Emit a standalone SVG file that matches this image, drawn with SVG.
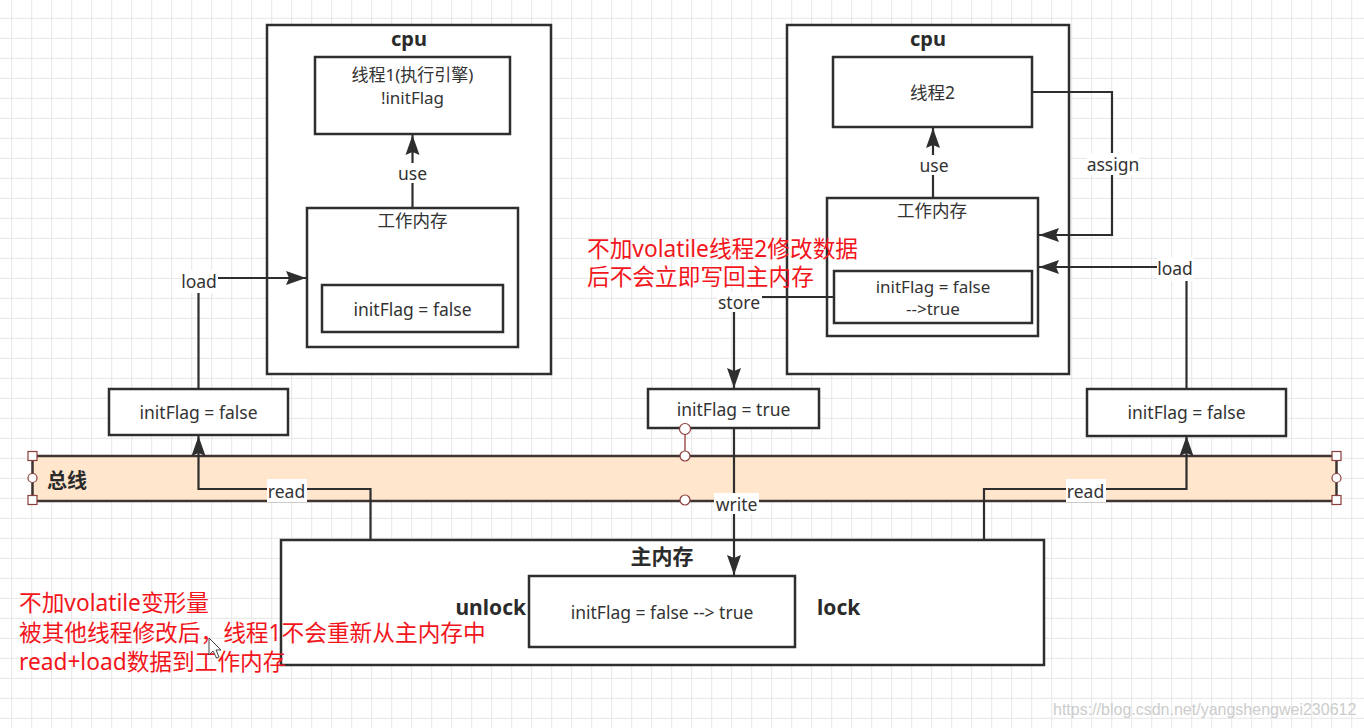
<svg xmlns="http://www.w3.org/2000/svg" width="1364" height="728" viewBox="0 0 1364 728">
<style>
.t{font-family:"Noto Sans","Noto Sans CJK SC",sans-serif;font-size:17.5px;fill:#333;text-anchor:middle;dominant-baseline:central}
.s{font-size:17px}
.b{font-weight:bold;font-size:20px;fill:#2b2b2b}
.b21{font-weight:bold;font-size:21px;fill:#2b2b2b}
.box{fill:#fff;stroke:#2e2e2e;stroke-width:2.5}
.ln{fill:none;stroke:#2e2e2e;stroke-width:2.2}
.lbl{fill:#fff}
.red{font-family:"Noto Sans","Noto Sans CJK SC",sans-serif;font-size:22.7px;fill:#f2161c;dominant-baseline:central}
.h{fill:#fff;stroke:#8b3d3d;stroke-width:1.2}
</style>
<defs>
<pattern id="grid" x="11.2" y="17.8" width="20" height="20" patternUnits="userSpaceOnUse"><path d="M0 0.5H20M0.5 0V20" stroke="#e6e6e6" stroke-width="1" fill="none"/></pattern>
<marker id="arr" markerUnits="userSpaceOnUse" markerWidth="21" markerHeight="15" refX="20" refY="7.5" orient="auto"><path d="M0,0.5 L20,7.5 L0,14.5 L3,7.5 Z" fill="#2e2e2e"/></marker>
</defs>
<rect width="1364" height="728" fill="#fff"/>
<rect width="1364" height="728" fill="url(#grid)"/>

<g id="bus">
<rect x="32.5" y="456" width="1304" height="45" fill="#FFE6CC" stroke="#3f3431" stroke-width="2.5"/>
<text class="t b" x="47" y="480" style="text-anchor:start">总线</text>
</g>

<g id="cpu1">
<rect class="box" x="267" y="25" width="284" height="349"/>
<text class="t b" x="409" y="38">cpu</text>
</g>
<g id="thread1">
<rect class="box" x="315" y="57" width="195" height="77"/>
<text class="t s" x="412.5" y="74">线程1(执行引擎)</text>
<text class="t s" x="412.5" y="97">!initFlag</text>
</g>
<g id="workmem1">
<rect class="box" x="307" y="208" width="211" height="139"/>
<text class="t" x="412.5" y="220">工作内存</text>
</g>
<g id="flag1">
<rect class="box" x="322" y="285" width="181" height="47"/>
<text class="t" x="412.5" y="309">initFlag = false</text>
</g>

<g id="cpu2">
<rect class="box" x="787" y="25" width="282" height="349"/>
<text class="t b" x="928" y="38">cpu</text>
</g>
<g id="thread2">
<rect class="box" x="833" y="57" width="199" height="70"/>
<text class="t" x="932.5" y="92">线程2</text>
</g>
<g id="workmem2">
<rect class="box" x="827" y="198" width="211" height="138"/>
<text class="t" x="932" y="210">工作内存</text>
</g>
<g id="flag2">
<rect class="box" x="834" y="271" width="198" height="52"/>
<text class="t s" x="933" y="286.5">initFlag = false</text>
<text class="t s" x="933" y="308.5">--&gt;true</text>
</g>

<g id="boxLeft">
<rect class="box" x="109" y="389" width="179" height="46"/>
<text class="t" x="198.5" y="412">initFlag = false</text>
</g>
<g id="boxMid">
<rect class="box" x="648" y="389" width="171" height="39"/>
<text class="t" x="733.5" y="409">initFlag = true</text>
</g>
<g id="boxRight">
<rect class="box" x="1087" y="389" width="199" height="47"/>
<text class="t" x="1186.5" y="412">initFlag = false</text>
</g>

<g id="mainmem">
<rect class="box" x="281" y="540" width="763" height="125"/>
<text class="t b21" x="662" y="556">主内存</text>
<text class="t b21" x="526" y="607" style="text-anchor:end">unlock</text>
<text class="t b21" x="817" y="607" style="text-anchor:start">lock</text>
</g>
<g id="mainflag">
<rect class="box" x="529" y="576" width="266" height="71"/>
<text class="t" x="662" y="612">initFlag = false --&gt; true</text>
</g>

<g id="connectors">
<path class="ln" d="M412.5 208V135" marker-end="url(#arr)"/>
<path class="ln" d="M198.5 389V278H306" marker-end="url(#arr)"/>
<path class="ln" d="M933 198V128" marker-end="url(#arr)"/>
<path class="ln" d="M1032 92H1112V235H1039" marker-end="url(#arr)"/>
<path class="ln" d="M1186.5 389V267H1039" marker-end="url(#arr)"/>
<path class="ln" d="M834 297H734V388" marker-end="url(#arr)"/>
<path class="ln" d="M734 428V575" marker-end="url(#arr)"/>
<path class="ln" d="M370.5 540V489H198.5V436" marker-end="url(#arr)"/>
<path class="ln" d="M984 540V489H1186.5V436" marker-end="url(#arr)"/>
<rect class="lbl" x="396" y="163" width="33" height="20"/>
<text class="t" x="412.5" y="173">use</text>
<rect class="lbl" x="181" y="270" width="37" height="23"/>
<text class="t" x="199" y="281">load</text>
<rect class="lbl" x="917" y="155" width="33" height="20"/>
<text class="t" x="934" y="165">use</text>
<rect class="lbl" x="1087" y="153" width="52" height="22"/>
<text class="t" x="1113" y="164">assign</text>
<rect class="lbl" x="1157" y="257" width="36" height="24"/>
<text class="t" x="1175" y="268">load</text>
<rect class="lbl" x="717" y="292" width="45" height="20"/>
<text class="t" x="739" y="302">store</text>
<rect class="lbl" x="714" y="493" width="45" height="21"/>
<text class="t" x="736.5" y="504">write</text>
<rect class="lbl" x="267" y="479" width="40" height="23"/>
<text class="t" x="286.5" y="491">read</text>
<rect class="lbl" x="1066" y="479" width="40" height="23"/>
<text class="t" x="1085.5" y="491">read</text>
</g>

<g id="handles">
<path d="M685 434V451" stroke="#a5524f" stroke-width="1.5"/>
<circle class="h" cx="685" cy="429" r="5.5" stroke="#b86060"/>
<circle class="h" cx="685" cy="456" r="5"/>
<circle class="h" cx="685" cy="500" r="5"/>
<circle class="h" cx="32.5" cy="478" r="4.5"/>
<circle class="h" cx="1336.5" cy="478" r="4.5"/>
<rect class="h" x="28" y="451.5" width="9" height="9"/>
<rect class="h" x="28" y="495.5" width="9" height="9"/>
<rect class="h" x="1332" y="451.5" width="9" height="9"/>
<rect class="h" x="1332" y="495.5" width="9" height="9"/>
</g>

<g id="notes">
<text class="red" x="587" y="248">不加volatile线程2修改数据</text>
<text class="red" x="587" y="276">后不会立即写回主内存</text>
<text class="red" x="19" y="602">不加volatile变形量</text>
<text class="red" x="19" y="632">被其他线程修改后，线程1不会重新从主内存中</text>
<text class="red" x="19" y="661">read+load数据到工作内存</text>
</g>

<polygon points="209,638 209,655 213,651 216.5,658 219,657 216,650 221,650" fill="#fff" stroke="#444" stroke-width="1"/>

<text x="1053" y="709" style="font-family:'Liberation Sans',Arial,sans-serif;font-size:16px;fill:#cccccc;dominant-baseline:central">https://blog.csdn.net/yangshengwei230612</text>
</svg>
